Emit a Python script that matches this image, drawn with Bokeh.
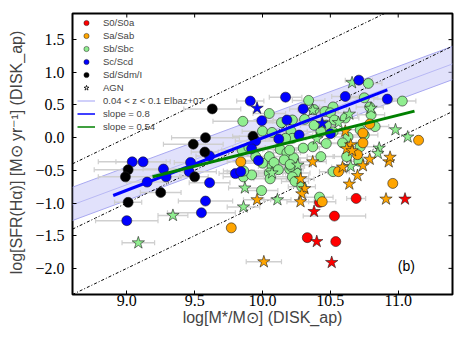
import numpy as np
from bokeh.plotting import figure
from bokeh.models import (FixedTicker, Legend, LegendItem, Range1d, ColumnDataSource)
from bokeh.core.properties import value
from bokeh.embed import file_html
from bokeh.resources import INLINE

# ---------------- data ----------------
# S0/S0a (red)
s0_x = [10.69, 10.53, 10.33, 10.54, 10.42]
s0_y = [-0.93, -1.20, -1.53, -1.59, -0.99]
s0_xe = [0.07, 0.23, 0.0, 0.0, 0.0]
s0_agn_x = [10.38, 10.40, 10.51, 11.05]
s0_agn_y = [-1.13, -1.59, -1.91, -0.94]
s0_agn_xe = [0.0, 0.0, 0.0, 0.0]

# Sa/Sab (orange)
sa_x = [10.96, 10.44, 9.77, 10.56, 11.15, 10.79, 10.74, 10.74, 10.70, 9.84]
sa_y = [-0.70, -0.98, -1.38, -0.52, -0.04, 0.21, 0.07, -0.08, -0.26, -0.37]
sa_xe = [0.0, 0.1, 0.0, 0.08, 0.0, 0.0, 0.0, 0.0, 0.0, 0.1]
sa_agn_x = [10.61, 10.65, 10.62, 10.66, 10.74, 10.79, 10.93, 10.94, 10.59, 10.37,
            10.70, 10.64, 10.28, 10.31, 10.29, 10.91, 9.96, 10.28, 10.01]
sa_agn_y = [0.10, -0.11, -0.17, -0.20, -0.43, -0.33, -0.37, -0.30, -0.45, -0.37,
            -0.58, -0.71, -0.63, -0.78, -0.86, -0.94, -0.95, -0.98, -1.90]
sa_agn_xe = [0.0, 0.0, 0.0, 0.0, 0.0, 0.0, 0.0, 0.0, 0.08, 0.1,
             0.0, 0.0, 0.1, 0.0, 0.0, 0.0, 0.1, 0.1, 0.13]

# Sb/Sbc (light green)
sb_x = [10.05, 9.855, 10.14, 10.00, 10.07, 10.21, 10.22, 9.85, 9.90, 9.95,
        10.05, 10.13, 10.18, 10.23, 10.16, 10.07, 10.00, 10.05, 10.20, 10.25,
        9.86, 9.92, 10.78, 10.34, 11.03, 10.75, 10.38, 10.46, 10.52, 10.22,
        10.50, 10.79, 10.80, 10.53, 10.61, 10.31, 10.38, 10.47, 10.17, 10.43,
        10.52, 10.72, 10.83, 10.75, 10.63, 10.59, 10.47, 10.37, 10.30, 10.20,
        10.21, 10.72, 10.62, 10.43, 10.52, 10.22, 10.24, 10.42, 10.085, 10.117,
        10.204, 10.056, 9.862, 9.993, 10.29, 10.71]
sb_y = [0.37, 0.25, 0.23, 0.10, 0.08, 0.10, -0.01, -0.19, -0.15, -0.29,
        -0.29, -0.18, -0.23, -0.31, -0.34, -0.44, -0.39, -0.54, -0.48, -0.54,
        -0.60, -0.57, 0.83, 0.57, 0.56, 0.61, 0.43, 0.40, 0.47, 0.27,
        0.38, 0.47, 0.35, 0.27, 0.30, 0.28, 0.19, 0.19, -0.01, 0.09,
        0.09, 0.12, 0.17, 0.04, 0.01, -0.08, -0.09, -0.14, -0.16, -0.19,
        -0.44, -0.14, -0.29, -0.29, -0.52, -0.60, -0.67, -0.91, -0.38, -0.49,
        -0.41, -0.63, -0.51, -0.81, -0.75, -0.36]
sb_xe = [0.12, 0.22, 0.12, 0.15, 0.1, 0.12, 0.1, 0.15, 0.12, 0.1,
         0.1, 0.12, 0.1, 0.1, 0.12, 0.1, 0.15, 0.1, 0.1, 0.1,
         0.15, 0.12, 0.1, 0.12, 0.1, 0.1, 0.12, 0.1, 0.1, 0.1,
         0.1, 0.1, 0.1, 0.1, 0.1, 0.12, 0.1, 0.1, 0.12, 0.1,
         0.1, 0.1, 0.1, 0.1, 0.1, 0.1, 0.1, 0.1, 0.12, 0.12,
         0.1, 0.1, 0.1, 0.1, 0.1, 0.12, 0.1, 0.1, 0.12, 0.1,
         0.1, 0.12, 0.15, 0.12, 0.1, 0.08]
sb_agn_x = [10.66, 10.80, 10.64, 10.37, 10.98, 11.07, 10.86, 10.85, 10.65, 10.26,
            10.07, 9.87, 10.11, 9.86, 9.34, 9.085, 10.56, 10.40]
sb_agn_y = [0.84, 0.45, 0.36, 0.42, 0.12, 0.01, -0.16, -0.24, -0.44, -0.42,
            -0.54, -0.77, -0.95, -1.06, -1.19, -1.61, 0.23, -0.02]
sb_agn_xe = [0.0, 0.0, 0.0, 0.1, 0.0, 0.0, 0.0, 0.0, 0.0, 0.1,
             0.1, 0.12, 0.1, 0.12, 0.11, 0.12, 0.0, 0.0]

# Sc/Scd (blue)
sc_x = [9.91, 9.995, 10.17, 10.18, 9.95, 10.12, 9.92, 9.61, 9.47, 9.97,
        9.27, 9.46, 9.80, 9.84, 9.04, 9.12, 9.29, 9.15, 9.61, 9.58,
        9.55, 9.00, 10.71, 10.61, 10.92, 10.30, 10.27, 10.50]
sc_y = [0.56, 0.26, 0.62, 0.27, -0.05, -0.02, -0.17, -0.28, -0.38, -0.35,
        -0.48, -0.52, -0.55, -0.52, -0.37, -0.37, -0.60, -0.68, -0.69, -0.97,
        -1.15, -1.27, 0.88, 0.63, 0.59, 0.44, 0.04, 0.06]
sc_xe = [0.1, 0.15, 0.12, 0.1, 0.15, 0.1, 0.12, 0.1, 0.12, 0.1,
         0.15, 0.2, 0.12, 0.1, 0.25, 0.2, 0.1, 0.15, 0.15, 0.2,
         0.25, 0.23, 0.1, 0.1, 0.1, 0.1, 0.1, 0.1]
sc_agn_x = [9.96, 10.44]
sc_agn_y = [0.45, 0.22]
sc_agn_xe = [0.0, 0.0]

# Sd/Sdm/I (black)
sd_x = [9.63, 9.58, 9.49, 9.93, 9.575, 9.01, 8.99, 9.50, 9.25, 9.01]
sd_y = [0.44, 0.00, -0.10, 0.02, -0.22, -0.49, -0.60, -0.60, -0.84, -0.99]
sd_xe = [0.21, 0.25, 0.22, 0.15, 0.10, 0.25, 0.20, 0.10, 0.15, 0.10]

# relations
ssfr_levels = [-9.0, -10.0, -11.0]
elbaz_slope = 0.77
elbaz_pivot = 11.0
elbaz_mid, elbaz_lo, elbaz_hi = 0.82, 0.58, 1.09
fit_blue_slope, fit_blue_int, fit_blue_range = 0.8, -0.005, (8.90, 10.92)
fit_green_slope, fit_green_int, fit_green_range = 0.52, -0.095, (9.19, 11.12)
fit_pivot = 10.0
fit_green_pivot = 10.157

x_ticks = [9.0, 9.5, 10.0, 10.5, 11.0]
x_tick_labels = ["9.0", "9.5", "10.0", "10.5", "11.0"]
y_ticks = [-2.0, -1.5, -1.0, -0.5, 0.0, 0.5, 1.0, 1.5]
y_tick_labels = ["\u22122.0", "\u22121.5", "\u22121.0", "\u22120.5", "0.0", "0.5", "1.0", "1.5"]
x_range = (8.6, 11.4)
y_range = (-2.4, 1.9)

# ---------------- figure ----------------
p = figure(width=463, height=348, output_backend="svg", toolbar_location=None,
           x_range=Range1d(*x_range), y_range=Range1d(*y_range),
           min_border_left=72, min_border_right=11, min_border_top=13, min_border_bottom=54)
p.grid.visible = False
p.outline_line_color = "black"
p.outline_line_width = 2
p.background_fill_color = "white"
p.border_fill_color = "white"

tick_font = "Liberation Serif"
lab_font = "Liberation Sans"

p.xaxis.ticker = FixedTicker(ticks=x_ticks)
p.xaxis.major_label_overrides = dict(zip(x_ticks, x_tick_labels))
p.yaxis.ticker = FixedTicker(ticks=y_ticks)
p.yaxis.major_label_overrides = dict(zip(y_ticks, y_tick_labels))
for ax in [p.xaxis[0], p.yaxis[0]]:
    ax.axis_line_color = None
    ax.major_tick_in = 4
    ax.major_tick_out = 0
    ax.minor_tick_line_color = None
    ax.major_label_text_font = tick_font
    ax.major_label_text_font_size = "16px"
    ax.major_label_text_color = "black"
    ax.axis_label_text_font = lab_font
    ax.axis_label_text_font_size = "16px"
    ax.axis_label_text_font_style = "normal"
p.xaxis.major_label_standoff = 0
p.yaxis.major_label_standoff = 8
p.xaxis.axis_label_standoff = 0
p.yaxis.axis_label_standoff = 7
p.xaxis.axis_label = "log[M*/M\u2299] (DISK_ap)"
p.yaxis.axis_label = "log[SFR(H\u03b1)] [M\u2299 yr\u207b\u00b9] (DISK_ap)"

# ticks on the top and right edges of the frame (clipped dash markers)
p.scatter(x_ticks, [y_range[1]] * len(x_ticks), marker="dash", angle=np.pi / 2, size=8,
          line_color="black", line_width=1)
p.scatter([x_range[1]] * len(y_ticks), y_ticks, marker="dash", size=8,
          line_color="black", line_width=1)

# Elbaz band
xb = np.array(x_range)
p.varea(x=xb, y1=elbaz_lo + elbaz_slope * (xb - elbaz_pivot),
        y2=elbaz_hi + elbaz_slope * (xb - elbaz_pivot), fill_color="#c8c8f8", fill_alpha=0.55)
p.line(xb, elbaz_lo + elbaz_slope * (xb - elbaz_pivot), line_color="#a8a8f0", line_width=1)
p.line(xb, elbaz_hi + elbaz_slope * (xb - elbaz_pivot), line_color="#a8a8f0", line_width=1)
p.line(xb, elbaz_mid + elbaz_slope * (xb - elbaz_pivot), line_color="#b8b8f4", line_width=1)

# constant sSFR lines
for lev in ssfr_levels:
    p.line(xb, xb + lev, line_color="black", line_width=1, line_dash="3 2 1 2")

# error bars
def errbars(xs, ys, xes):
    xs = np.array(xs); ys = np.array(ys); xes = np.array(xes)
    m = xes > 0
    p.segment(xs[m] - xes[m], ys[m], xs[m] + xes[m], ys[m], line_color="#cfcfcf", line_width=1.5)
    p.scatter(np.concatenate([xs[m] - xes[m], xs[m] + xes[m]]), np.concatenate([ys[m], ys[m]]),
              marker="dash", angle=np.pi / 2, size=5, line_color="#cfcfcf", line_width=1.2)

for xs, ys, xes in [(s0_x, s0_y, s0_xe), (s0_agn_x, s0_agn_y, s0_agn_xe), (sa_x, sa_y, sa_xe),
                    (sa_agn_x, sa_agn_y, sa_agn_xe), (sb_x, sb_y, sb_xe), (sb_agn_x, sb_agn_y, sb_agn_xe),
                    (sc_x, sc_y, sc_xe), (sc_agn_x, sc_agn_y, sc_agn_xe), (sd_x, sd_y, sd_xe)]:
    errbars(xs, ys, xes)

# points
CIRC = 10
STAR = 13
def pts(xs, ys, color, marker):
    p.scatter(xs, ys, marker=marker, size=CIRC if marker == "circle" else STAR,
              fill_color=color, line_color="#202020", line_width=0.6)

pts(s0_x, s0_y, "#ff0000", "circle")
pts(sb_x, sb_y, "#90ee90", "circle")
pts(sb_agn_x, sb_agn_y, "#90ee90", "star")
pts(sa_x, sa_y, "#ffa500", "circle")
pts(sa_agn_x, sa_agn_y, "#ffa500", "star")
pts(s0_agn_x, s0_agn_y, "#ff0000", "star")
pts(sc_x, sc_y, "#0000ff", "circle")
pts(sc_agn_x, sc_agn_y, "#0000ff", "star")
pts(sd_x, sd_y, "#000000", "circle")

# fits
xbl = np.array(fit_blue_range)
p.line(xbl, fit_blue_int + fit_blue_slope * (xbl - fit_pivot), line_color="#0000ff", line_width=3)
xgr = np.array(fit_green_range)
p.line(xgr, fit_green_int + fit_green_slope * (xgr - fit_green_pivot), line_color="#008000", line_width=3)

p.text(x=[11.06], y=[-1.96], text=["(b)"], text_font=value(lab_font), text_font_size="14px",
       text_align="center", text_baseline="middle", text_color="black")

# legend (proxy renderers holding one undrawn NaN row)
def proxy():
    return ColumnDataSource(data=dict(x=[np.nan], y=[np.nan]))

items = []
for lab, col in [("S0/S0a", "#ff0000"), ("Sa/Sab", "#ffa500"), ("Sb/Sbc", "#90ee90"),
                 ("Sc/Scd", "#0000ff"), ("Sd/Sdm/I", "#000000")]:
    r = p.scatter("x", "y", source=proxy(), marker="circle", size=7, fill_color=col,
                  line_color="#202020", line_width=0.5)
    items.append(LegendItem(label=lab, renderers=[r]))
r = p.scatter("x", "y", source=proxy(), marker="star", size=8, fill_color="white",
              line_color="black", line_width=0.8)
items.append(LegendItem(label="AGN", renderers=[r]))
for lab, col, w in [("0.04 < z < 0.1 Elbaz+07", "#d0d0fa", 2), ("slope = 0.8", "#0000ff", 1.5),
                    ("slope = 0.54", "#008000", 1.5)]:
    r = p.line("x", "y", source=proxy(), line_color=col, line_width=w)
    items.append(LegendItem(label=lab, renderers=[r]))

leg = Legend(items=items, location=(5, 161), border_line_color=None, background_fill_alpha=0,
             label_text_font=lab_font, label_text_font_size="9.5px", glyph_width=18, glyph_height=13,
             label_height=12, spacing=0, padding=2, margin=0, label_standoff=8)
p.add_layout(leg, "center")

open("out.html", "w").write(file_html(p, INLINE))
